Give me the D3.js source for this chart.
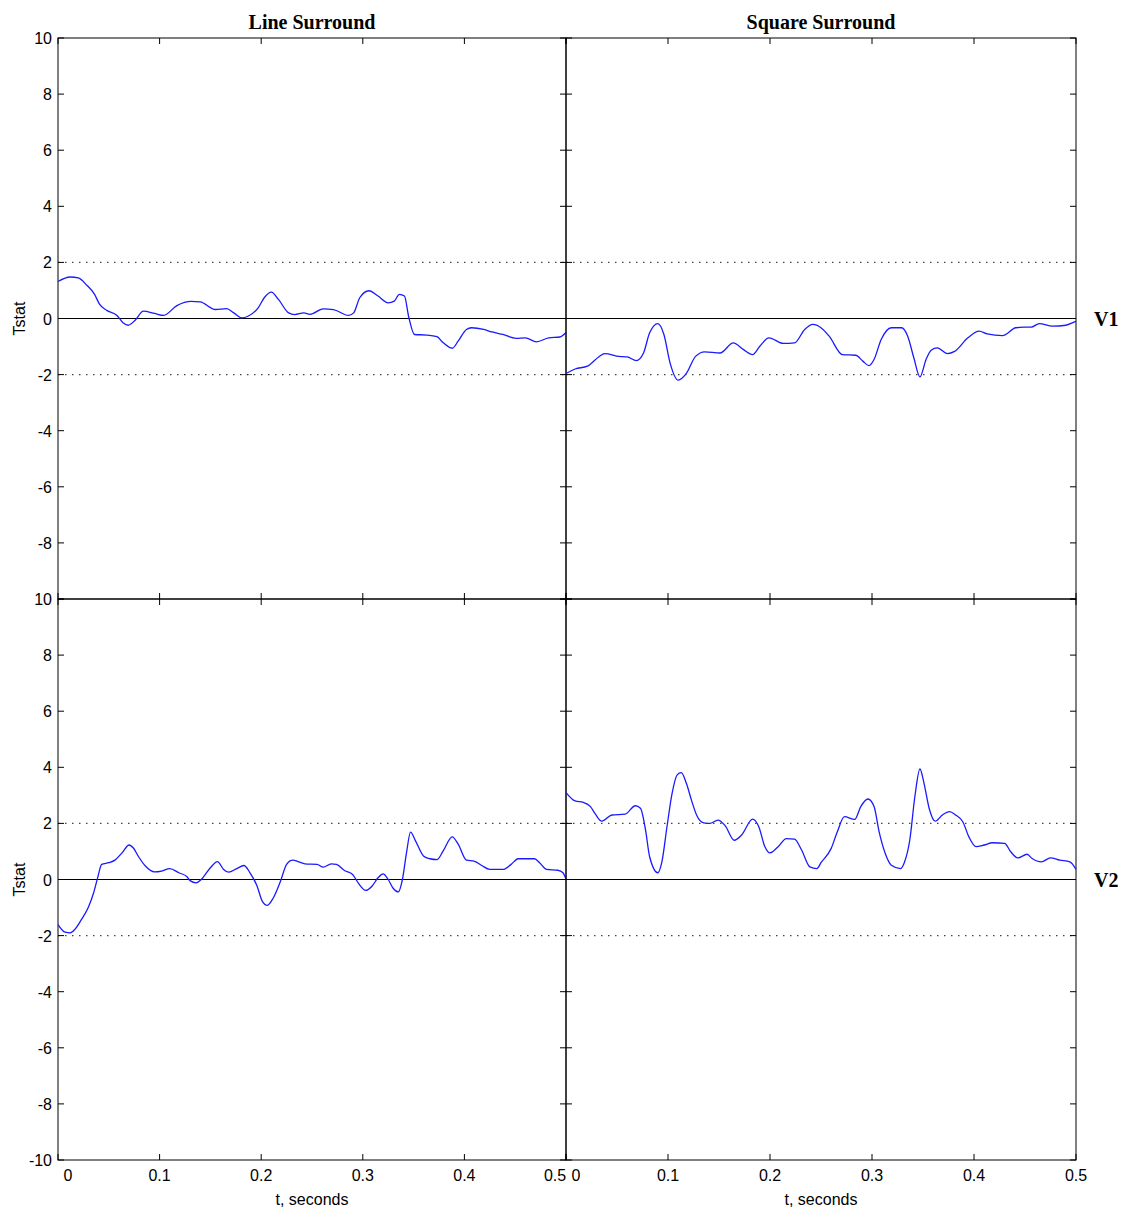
<!doctype html>
<html>
<head>
<meta charset="UTF-8">
<title>Tstat V1 V2</title>
<script src="https://d3js.org/d3.v7.min.js"></script>
<style>
    body { margin: 0; background: #fff; }
    .tick-label { font-family: "Liberation Sans", Arial, sans-serif; font-size: 16px; fill: #000; }
    .axis-label { font-family: "Liberation Sans", Arial, sans-serif; font-size: 16px; fill: #000; }
    .title { font-family: "Liberation Serif", "Times New Roman", serif; font-size: 20px; font-weight: bold; fill: #000; }
</style>
</head>
<body>
<svg width="1121" height="1209"></svg>
<script>
    // column titles / row labels
    var colTitles = ["Line Surround", "Square Surround"];
    var rowLabels = ["V1", "V2"];
    var xTicks = [0, 0.1, 0.2, 0.3, 0.4, 0.5];
    var yTicks = [-10, -8, -6, -4, -2, 0, 2, 4, 6, 8, 10];

    // V1, line surround
    var v1LineT = [0, 0.012, 0.02, 0.028, 0.036, 0.041, 0.048, 0.058, 0.064, 0.069, 0.076, 0.084, 0.095, 0.104, 0.117, 0.131, 0.14, 0.155, 0.166, 0.173, 0.181, 0.187, 0.197, 0.203, 0.21, 0.217, 0.227, 0.233, 0.242, 0.248, 0.261, 0.271, 0.286, 0.291, 0.297, 0.306, 0.315, 0.325, 0.331, 0.336, 0.341, 0.345, 0.351, 0.363, 0.373, 0.379, 0.388, 0.394, 0.402, 0.407, 0.419, 0.427, 0.438, 0.451, 0.46, 0.471, 0.483, 0.494, 0.5];
    var v1LineV = [1.32, 1.48, 1.45, 1.2, 0.86, 0.5, 0.29, 0.11, -0.15, -0.24, -0.06, 0.26, 0.18, 0.11, 0.46, 0.61, 0.59, 0.32, 0.35, 0.2, 0.02, 0.08, 0.38, 0.74, 0.94, 0.68, 0.2, 0.14, 0.2, 0.15, 0.34, 0.32, 0.11, 0.2, 0.74, 0.99, 0.8, 0.56, 0.62, 0.86, 0.8, 0.09, -0.57, -0.59, -0.65, -0.86, -1.06, -0.8, -0.39, -0.33, -0.39, -0.48, -0.57, -0.71, -0.69, -0.83, -0.69, -0.66, -0.5];

    // V1, square surround
    var v1SquareT = [0, 0.009, 0.021, 0.032, 0.038, 0.052, 0.06, 0.069, 0.076, 0.082, 0.09, 0.096, 0.102, 0.11, 0.118, 0.127, 0.136, 0.151, 0.164, 0.174, 0.183, 0.19, 0.199, 0.213, 0.224, 0.234, 0.242, 0.25, 0.258, 0.271, 0.284, 0.291, 0.297, 0.302, 0.309, 0.319, 0.329, 0.335, 0.341, 0.347, 0.353, 0.358, 0.364, 0.374, 0.381, 0.394, 0.405, 0.413, 0.428, 0.441, 0.449, 0.456, 0.464, 0.477, 0.49, 0.498, 0.5];
    var v1SquareV = [-1.96, -1.8, -1.7, -1.37, -1.25, -1.35, -1.37, -1.5, -1.23, -0.51, -0.18, -0.57, -1.58, -2.2, -1.96, -1.35, -1.19, -1.23, -0.87, -1.11, -1.29, -0.99, -0.69, -0.89, -0.87, -0.39, -0.21, -0.33, -0.63, -1.29, -1.31, -1.52, -1.68, -1.46, -0.75, -0.33, -0.33, -0.63, -1.4, -2.08, -1.46, -1.13, -1.05, -1.25, -1.17, -0.69, -0.45, -0.55, -0.61, -0.33, -0.31, -0.31, -0.18, -0.27, -0.24, -0.13, -0.1];

    // V2, line surround
    var v2LineT = [0, 0.007, 0.012, 0.017, 0.023, 0.03, 0.035, 0.039, 0.043, 0.05, 0.056, 0.063, 0.07, 0.074, 0.079, 0.086, 0.095, 0.102, 0.11, 0.119, 0.127, 0.13, 0.136, 0.141, 0.15, 0.157, 0.163, 0.168, 0.176, 0.183, 0.189, 0.196, 0.201, 0.206, 0.212, 0.219, 0.225, 0.231, 0.237, 0.243, 0.255, 0.261, 0.269, 0.274, 0.282, 0.29, 0.296, 0.303, 0.309, 0.315, 0.32, 0.325, 0.33, 0.335, 0.339, 0.343, 0.347, 0.352, 0.36, 0.366, 0.373, 0.379, 0.388, 0.394, 0.402, 0.41, 0.417, 0.425, 0.438, 0.446, 0.453, 0.469, 0.474, 0.481, 0.492, 0.497, 0.5];
    var v2LineV = [-1.61, -1.88, -1.9, -1.76, -1.43, -0.98, -0.48, 0.06, 0.54, 0.6, 0.69, 0.95, 1.23, 1.13, 0.83, 0.48, 0.27, 0.3, 0.39, 0.24, 0.1, -0.04, -0.12, 0, 0.42, 0.64, 0.36, 0.26, 0.39, 0.5, 0.24, -0.24, -0.77, -0.92, -0.65, -0.06, 0.54, 0.69, 0.63, 0.56, 0.54, 0.44, 0.56, 0.54, 0.32, 0.18, -0.15, -0.39, -0.24, 0.06, 0.2, 0, -0.32, -0.44, 0, 0.95, 1.69, 1.37, 0.83, 0.74, 0.71, 1.01, 1.52, 1.25, 0.69, 0.65, 0.5, 0.36, 0.36, 0.54, 0.74, 0.74, 0.6, 0.36, 0.33, 0.24, 0.02];

    // V2, square surround
    var v2SquareT = [0, 0.009, 0.017, 0.024, 0.029, 0.035, 0.045, 0.058, 0.068, 0.073, 0.078, 0.082, 0.09, 0.094, 0.099, 0.104, 0.109, 0.113, 0.118, 0.123, 0.128, 0.135, 0.141, 0.149, 0.156, 0.165, 0.172, 0.183, 0.189, 0.195, 0.2, 0.208, 0.216, 0.224, 0.231, 0.239, 0.246, 0.25, 0.26, 0.266, 0.273, 0.283, 0.289, 0.296, 0.302, 0.307, 0.313, 0.319, 0.328, 0.332, 0.337, 0.342, 0.347, 0.351, 0.356, 0.362, 0.369, 0.376, 0.382, 0.389, 0.395, 0.402, 0.41, 0.418, 0.43, 0.436, 0.443, 0.452, 0.457, 0.466, 0.475, 0.484, 0.494, 0.5];
    var v2SquareV = [3.1, 2.8, 2.75, 2.6, 2.32, 2.08, 2.3, 2.33, 2.63, 2.54, 1.76, 0.81, 0.24, 0.63, 1.88, 3.07, 3.73, 3.81, 3.43, 2.83, 2.3, 2.02, 2, 2.12, 1.92, 1.4, 1.58, 2.15, 1.88, 1.17, 0.95, 1.17, 1.46, 1.44, 1.05, 0.45, 0.39, 0.6, 1.11, 1.7, 2.24, 2.14, 2.6, 2.87, 2.6, 1.7, 0.93, 0.51, 0.39, 0.63, 1.4, 2.95, 3.94, 3.43, 2.54, 2.08, 2.3, 2.42, 2.3, 2.06, 1.52, 1.17, 1.23, 1.31, 1.29, 0.99, 0.77, 0.9, 0.75, 0.63, 0.77, 0.69, 0.63, 0.36];

    var panels = [
        { row: 0, col: 0, t: v1LineT, v: v1LineV },
        { row: 0, col: 1, t: v1SquareT, v: v1SquareV },
        { row: 1, col: 0, t: v2LineT, v: v2LineV },
        { row: 1, col: 1, t: v2SquareT, v: v2SquareV }
    ];

    var svg = d3.select("svg");
    var colX = [[58, 566], [566, 1076]];
    var rowY = [[38, 599], [599, 1160]];
    var tickLen = 6;

    panels.forEach(function(p) {
        var x = d3.scaleLinear().domain([0, 0.5]).range(colX[p.col]);
        var y = d3.scaleLinear().domain([-10, 10]).range([rowY[p.row][1], rowY[p.row][0]]);
        var g = svg.append("g");
        var x0 = x.range()[0], x1 = x.range()[1];
        var yTop = y(10), yBot = y(-10);

        // significance lines
        [-2, 2].forEach(function(d) {
            g.append("line")
                .attr("x1", x0).attr("x2", x1)
                .attr("y1", y(d)).attr("y2", y(d))
                .attr("stroke", "#444")
                .attr("stroke-width", 1.2)
                .attr("stroke-dasharray", "1.5,5.5");
        });
        g.append("line")
            .attr("x1", x0).attr("x2", x1)
            .attr("y1", y(0)).attr("y2", y(0))
            .attr("stroke", "#000").attr("stroke-width", 1.2);

        // ticks on all four sides, pointing inward
        yTicks.forEach(function(d) {
            g.append("line").attr("x1", x0).attr("x2", x0 + tickLen)
                .attr("y1", y(d)).attr("y2", y(d)).attr("stroke", "#000");
            g.append("line").attr("x1", x1).attr("x2", x1 - tickLen)
                .attr("y1", y(d)).attr("y2", y(d)).attr("stroke", "#000");
        });
        xTicks.forEach(function(d) {
            g.append("line").attr("x1", x(d)).attr("x2", x(d))
                .attr("y1", yTop).attr("y2", yTop + tickLen).attr("stroke", "#000");
            g.append("line").attr("x1", x(d)).attr("x2", x(d))
                .attr("y1", yBot).attr("y2", yBot - tickLen).attr("stroke", "#000");
        });

        // frame
        g.append("rect")
            .attr("x", x0).attr("y", yTop)
            .attr("width", x1 - x0).attr("height", yBot - yTop)
            .attr("fill", "none").attr("stroke", "#000").attr("stroke-width", 1);

        // data line
        var pts = p.t.map(function(t, i) { return [t, p.v[i]]; });
        var line = d3.line()
            .x(function(d) { return x(d[0]); })
            .y(function(d) { return y(d[1]); })
            .curve(d3.curveMonotoneX);
        g.append("path")
            .attr("d", line(pts))
            .attr("fill", "none")
            .attr("stroke", "#1a1aff")
            .attr("stroke-width", 1.3);

        // y labels (left column only)
        if (p.col === 0) {
            yTicks.forEach(function(d) {
                if (p.row === 0 && d === -10) return;
                g.append("text").attr("class", "tick-label")
                    .attr("x", x0 - 6).attr("y", y(d) + 6)
                    .attr("text-anchor", "end")
                    .text(d);
            });
            g.append("text").attr("class", "axis-label")
                .attr("transform", "translate(25," + y(0) + ") rotate(-90)")
                .attr("text-anchor", "middle")
                .text("Tstat");
        }

        // x labels (bottom row only)
        if (p.row === 1) {
            xTicks.forEach(function(d) {
                var dx = 0;
                if (d === 0) dx = 10;
                if (d === 0.5 && p.col === 0) dx = -11;
                g.append("text").attr("class", "tick-label")
                    .attr("x", x(d) + dx).attr("y", yBot + 21)
                    .attr("text-anchor", "middle")
                    .text(d);
            });
            g.append("text").attr("class", "axis-label")
                .attr("x", (x0 + x1) / 2).attr("y", yBot + 45)
                .attr("text-anchor", "middle")
                .text("t, seconds");
        }

        if (p.row === 0) {
            g.append("text").attr("class", "title")
                .attr("x", (x0 + x1) / 2).attr("y", 29)
                .attr("text-anchor", "middle")
                .text(colTitles[p.col]);
        }
        if (p.col === 1) {
            g.append("text").attr("class", "title")
                .attr("x", x1 + 18).attr("y", y(0) + 7)
                .text(rowLabels[p.row]);
        }
    });
</script>
</body>
</html>
